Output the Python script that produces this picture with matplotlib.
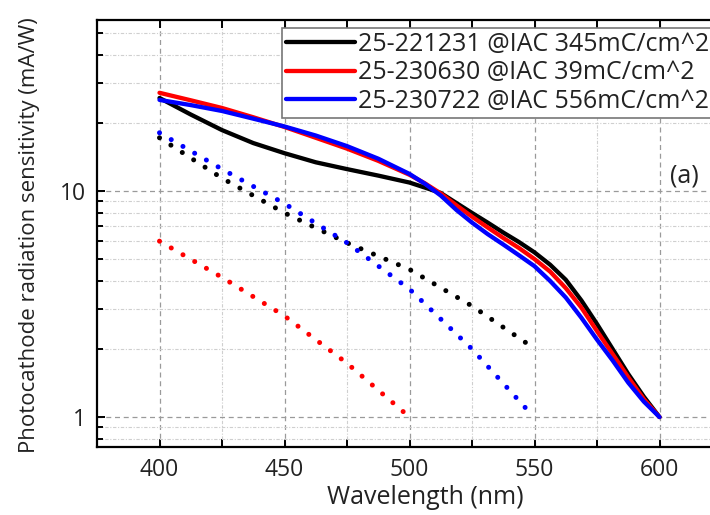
import matplotlib
matplotlib.use("Agg")
import matplotlib.pyplot as plt
from matplotlib.ticker import FixedLocator, NullFormatter, FixedFormatter

plt.rcParams['font.family'] = ['Open Sans', 'DejaVu Sans']

# ---- data ----
wl_solid = [400, 412.5, 425, 437.5, 450, 462.5, 475, 487.5, 500, 506.25, 512.5, 518.75,
            525, 531.25, 537.5, 543.75, 550, 556.25, 562.5, 568.75, 575, 581.25, 587.5, 593.75, 600]
black_solid = [25.8, 21.8, 18.6, 16.3, 14.7, 13.4, 12.5, 11.7, 10.9, 10.35, 9.8, 8.85,
               8.0, 7.25, 6.55, 5.95, 5.35, 4.72, 4.05, 3.28, 2.58, 2.0, 1.55, 1.23, 1.0]
red_solid = [27.2, 25.2, 23.3, 21.2, 19.2, 17.2, 15.4, 13.6, 11.8, 10.8, 9.75, 8.65,
             7.7, 6.9, 6.2, 5.6, 5.0, 4.4, 3.72, 3.05, 2.4, 1.9, 1.5, 1.2, 1.0]
blue_solid = [25.3, 24.0, 22.6, 20.9, 19.3, 17.6, 15.8, 13.9, 11.9, 10.75, 9.55, 8.25,
              7.25, 6.45, 5.8, 5.2, 4.65, 4.0, 3.38, 2.75, 2.2, 1.78, 1.42, 1.17, 1.0]

wl_black_dot = [400, 425, 450, 475, 500, 525, 548]
black_dot = [17.2, 11.4, 8.0, 5.9, 4.5, 3.1, 2.08]
wl_blue_dot = [400, 425, 450, 475, 500, 525, 548]
blue_dot = [18.1, 12.5, 8.8, 5.9, 3.68, 2.0, 1.05]
wl_red_dot = [400, 425, 450, 475, 500]
red_dot = [6.0, 4.15, 2.8, 1.73, 1.0]

labels = ["25-221231 @IAC 345mC/cm^2", "25-230630 @IAC 39mC/cm^2", "25-230722 @IAC 556mC/cm^2"]
colors = ["#000000", "#ff0000", "#0000ff"]

x_major = [400, 450, 500, 550, 600]
x_minor = [425, 475, 525, 575, 625]
y_major = [1, 10]
y_major_labels = ["1", "10"]
y_minor = [0.8, 0.9, 2, 3, 4, 5, 6, 7, 8, 9, 20, 30, 40, 50]

# ---- figure ----
fig = plt.figure(figsize=(7.1, 5.15), dpi=100)
ax = fig.add_axes([97/710, 68/515, 687.5/710, 427/515])
ax.set_yscale('log')
ax.set_xlim(375, 650)
ax.set_ylim(0.737, 57.1)

dot_style = (0, (0.01, 2.7))
solid_lw = 3.1
for wl, vals, c, lab in [(wl_solid, black_solid, colors[0], labels[0]),
                         (wl_solid, red_solid, colors[1], labels[1]),
                         (wl_solid, blue_solid, colors[2], labels[2])]:
    ax.plot(wl, vals, color=c, lw=solid_lw, label=lab, solid_capstyle='round',
            solid_joinstyle='round', zorder=3)

for wl, vals, c in [(wl_black_dot, black_dot, colors[0]),
                    (wl_red_dot, red_dot, colors[1]),
                    (wl_blue_dot, blue_dot, colors[2])]:
    ax.plot(wl, vals, color=c, lw=3.6, linestyle=dot_style, dash_capstyle='round', zorder=3)

ax.xaxis.set_major_locator(FixedLocator(x_major))
ax.xaxis.set_minor_locator(FixedLocator(x_minor))
ax.yaxis.set_major_locator(FixedLocator(y_major))
ax.yaxis.set_major_formatter(FixedFormatter(y_major_labels))
ax.yaxis.set_minor_locator(FixedLocator(y_minor))
ax.yaxis.set_minor_formatter(NullFormatter())

ax.grid(True, which='major', color='#9a9a9a', linestyle=(0, (4, 3)), lw=0.9)
ax.grid(True, which='minor', color='#cfcfcf', linestyle=(0, (3, 1.5, 1, 1.5)), lw=0.8)
ax.set_axisbelow(True)

for s in ax.spines.values():
    s.set_linewidth(1.6)
    s.set_color('black')

ax.tick_params(axis='both', which='both', direction='in', top=True, right=False,
               width=1.4, labelsize=16.5, labelcolor='#222222', pad=8)
ax.tick_params(axis='both', which='major', length=6)
ax.tick_params(axis='x', which='minor', length=6)
ax.tick_params(axis='y', which='minor', length=4)

ax.set_xlabel("Wavelength (nm)", fontsize=18, color='#222222', va='center')
ax.set_ylabel("Photocathode radiation sensitivity (mA/W)", fontsize=16, color='#222222', va='center')
ax.xaxis.set_label_coords((425-97)/687.5, -(498-447)/427)
ax.yaxis.set_label_coords(-(97-29)/687.5, (447-235)/427)

ax.text(610, 11.6, "(a)", fontsize=18, color='#222222', ha='center', va='center')

leg = ax.legend(loc='upper left', bbox_to_anchor=((282-97)/687.5, (447-28)/427),
                fontsize=18, frameon=True, fancybox=False, edgecolor='#777777',
                framealpha=1, borderpad=0.15, handlelength=2.75, handletextpad=0.15,
                labelspacing=0.14, borderaxespad=0)
leg.get_frame().set_linewidth(1.2)
for t in leg.get_texts():
    t.set_color('#222222')

fig.savefig("out.png", dpi=100)
